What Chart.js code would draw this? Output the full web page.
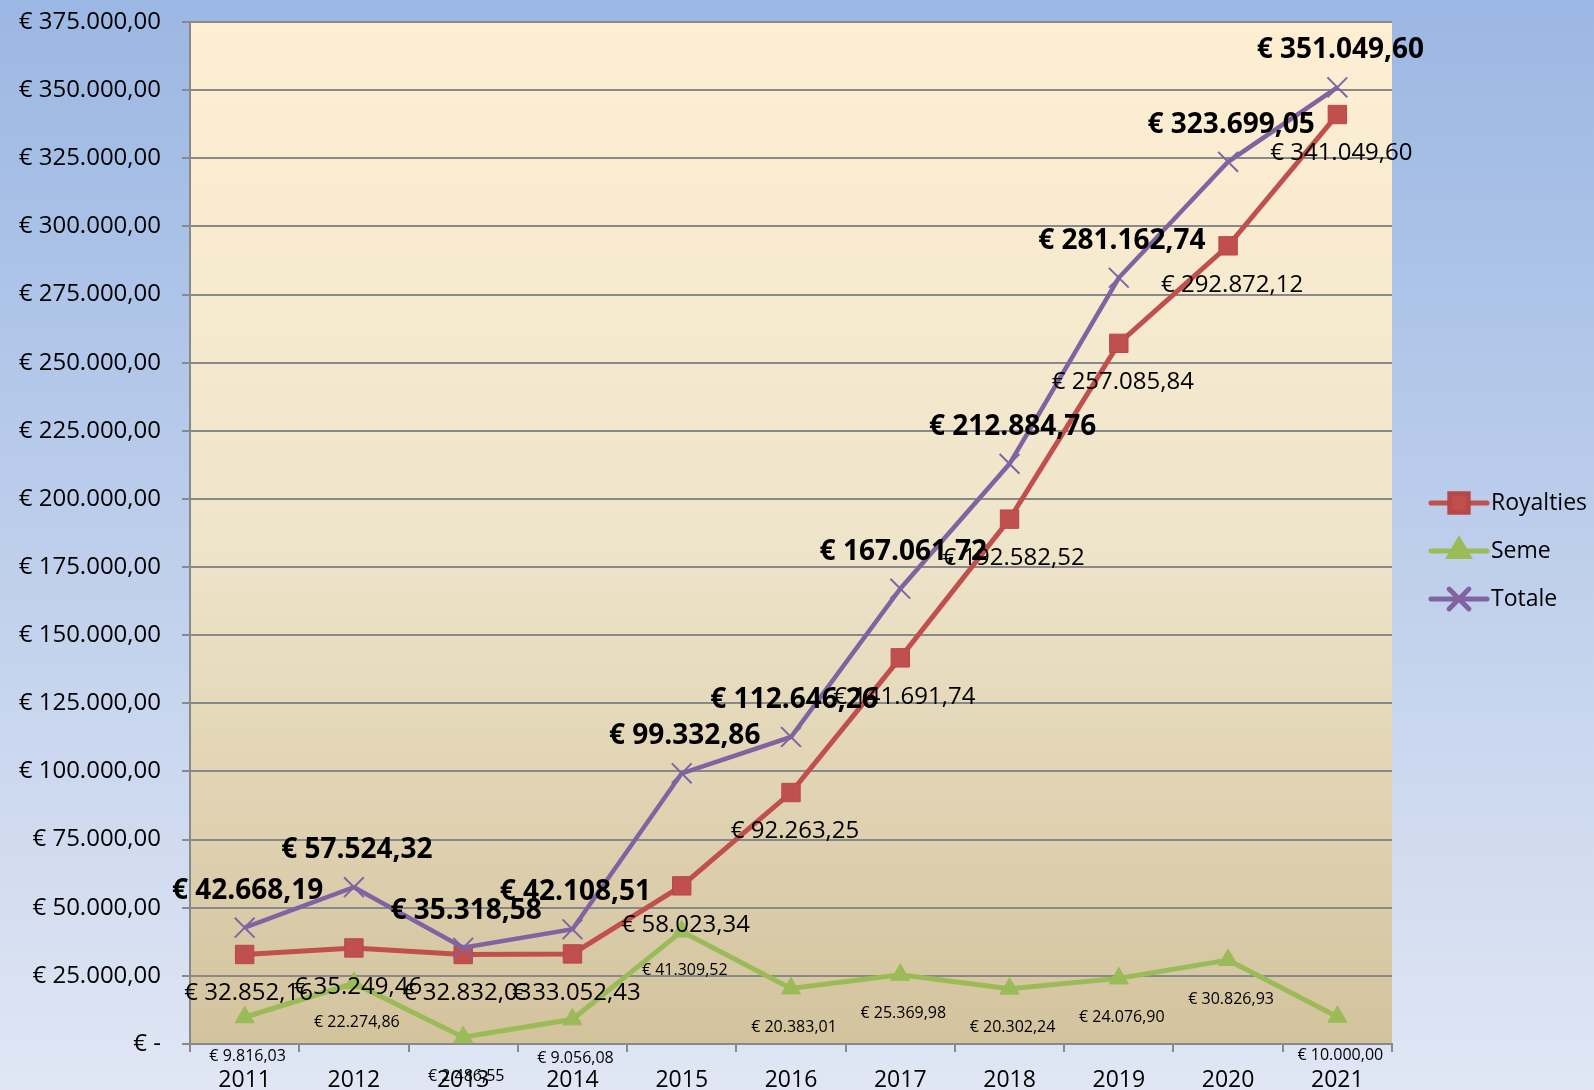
<!DOCTYPE html>
<html>
  <head>
    <title>Royalties e Seme</title>
    <script src="https://cdn.jsdelivr.net/npm/chart.js"></script>
    <style>
      body { margin: 0; overflow: hidden; }
      .chart-container { width: 1594px; height: 1090px; }
    </style>
  </head>
  <body>
    <div class="chart-container">
      <canvas id="royaltiesChart"></canvas>
    </div>
    <script>
      const years = ['2011', '2012', '2013', '2014', '2015', '2016', '2017', '2018', '2019', '2020', '2021'];
      const royalties = [32852.16, 35249.46, 32832.03, 33052.43, 58023.34, 92263.25, 141691.74, 192582.52, 257085.84, 292872.12, 341049.60];
      const seme = [9816.03, 22274.86, 2486.55, 9056.08, 41309.52, 20383.01, 25369.98, 20302.24, 24076.90, 30826.93, 10000.00];
      const totale = [42668.19, 57524.32, 35318.58, 42108.51, 99332.86, 112646.26, 167061.72, 212884.76, 281162.74, 323699.05, 351049.60];
      const yMax = 375000;
      const yStep = 25000;

      const FONT = '"Open Sans", "DejaVu Sans", sans-serif';
      const GRID = '#898989';

      function euro(v) {
        if (v === 0) return '€ -';
        const [int, dec] = v.toFixed(2).split('.');
        return '€ ' + int.replace(/\B(?=(\d{3})+(?!\d))/g, '.') + ',' + dec;
      }

      // page and plot area gradients
      const backgrounds = {
        id: 'backgrounds',
        beforeDraw(chart) {
          const { ctx, width, height, chartArea: a } = chart;
          ctx.save();
          let g = ctx.createLinearGradient(0, 0, 0, height);
          g.addColorStop(0, '#9bb7e3');
          g.addColorStop(1, '#e0e6f4');
          ctx.fillStyle = g;
          ctx.fillRect(0, 0, width, height);
          g = ctx.createLinearGradient(0, a.top, 0, a.bottom);
          g.addColorStop(0, '#feefd3');
          g.addColorStop(0.5, '#efe5cb');
          g.addColorStop(1, '#d3c39d');
          ctx.fillStyle = g;
          ctx.fillRect(a.left, a.top, a.right - a.left, a.bottom - a.top);
          ctx.restore();
        }
      };

      const labelStyles = {
        Totale: { font: 'bold 28px ' + FONT, dx: 3, dy: -37 },
        Royalties: { font: '24px ' + FONT, dx: 4, dy: 39 },
        Seme: { font: '16px ' + FONT, dx: 3, dy: 39 },
      };

      const valueLabels = {
        id: 'valueLabels',
        afterDatasetsDraw(chart) {
          const { ctx } = chart;
          ctx.save();
          ctx.fillStyle = '#000';
          ctx.textAlign = 'center';
          ctx.textBaseline = 'middle';
          ['Seme', 'Royalties', 'Totale'].forEach(name => {
            const i = chart.data.datasets.findIndex(d => d.label === name);
            const ds = chart.data.datasets[i];
            const st = labelStyles[name];
            ctx.font = st.font;
            chart.getDatasetMeta(i).data.forEach((pt, j) => {
              ctx.fillText(euro(ds.data[j]), pt.x + st.dx, pt.y + st.dy);
            });
          });
          ctx.restore();
        }
      };

      const customLegend = {
        id: 'customLegend',
        afterDraw(chart) {
          const { ctx } = chart;
          const x0 = 1431, x1 = 1487, rows = [503, 551, 599];
          ctx.save();
          ctx.font = '23px ' + FONT;
          ctx.textBaseline = 'middle';
          chart.data.datasets.forEach((ds, i) => {
            const y = rows[i];
            ctx.strokeStyle = ds.borderColor;
            ctx.lineWidth = 5;
            ctx.lineCap = 'round';
            ctx.beginPath();
            ctx.moveTo(x0, y);
            ctx.lineTo(x1, y);
            ctx.stroke();
            ctx.fillStyle = ds.pointBackgroundColor;
            ctx.strokeStyle = ds.pointBorderColor;
            Chart.helpers.drawPoint(ctx, {
              pointStyle: ds.pointStyle,
              radius: ds.pointRadius,
              rotation: 0,
              borderWidth: ds.pointBorderWidth
            }, (x0 + x1) / 2, y);
            ctx.fillStyle = '#000';
            ctx.fillText(ds.label, 1491, y);
          });
          ctx.restore();
        }
      };

      new Chart(document.getElementById('royaltiesChart'), {
        type: 'line',
        data: {
          labels: years,
          datasets: [
            {
              label: 'Royalties',
              data: royalties,
              order: 1,
              borderColor: '#c0504d',
              borderWidth: 5,
              pointStyle: 'rect',
              pointRadius: 13,
              pointBackgroundColor: '#c0504d',
              pointBorderColor: '#b8474a',
              pointBorderWidth: 1,
            },
            {
              label: 'Seme',
              data: seme,
              order: 2,
              borderColor: '#9bbb59',
              borderWidth: 5,
              pointStyle: 'triangle',
              pointRadius: 11,
              pointBackgroundColor: '#9bbb59',
              pointBorderColor: '#9bbb59',
              pointBorderWidth: 1,
            },
            {
              label: 'Totale',
              data: totale,
              order: 0,
              borderColor: '#8064a2',
              borderWidth: 4.5,
              pointStyle: 'crossRot',
              pointRadius: 14,
              pointBackgroundColor: '#8064a2',
              pointBorderColor: '#8064a2',
              pointBorderWidth: 2,
            },
          ]
        },
        options: {
          responsive: true,
          maintainAspectRatio: false,
          animation: false,
          layout: { padding: { top: 22, right: 202, left: 0, bottom: 0 } },
          elements: { line: { tension: 0 } },
          plugins: {
            legend: { display: false },
            title: { display: false },
            tooltip: { enabled: false },
          },
          scales: {
            x: {
              offset: true,
              grid: {
                offset: true,
                drawOnChartArea: false,
                drawTicks: true,
                tickLength: 8,
                color: GRID,
                lineWidth: 2,
              },
              border: { color: GRID, width: 2 },
              ticks: {
                color: '#000',
                padding: 15,
                font: { family: FONT, size: 23 },
                maxRotation: 0,
              },
              afterFit(scale) { scale.height = 46; }
            },
            y: {
              min: 0,
              max: yMax,
              grid: {
                color: GRID,
                lineWidth: 2,
                tickLength: 8,
              },
              border: { color: GRID, width: 2 },
              ticks: {
                stepSize: yStep,
                color: '#000',
                padding: 21,
                font: { family: FONT, size: 24 },
                callback: v => euro(v),
              },
              afterFit(scale) {
                scale.width = 190;
                scale.paddingTop = 0;
                scale.paddingBottom = 0;
              }
            }
          }
        },
        plugins: [backgrounds, valueLabels, customLegend]
      });
    </script>
  </body>
</html>
